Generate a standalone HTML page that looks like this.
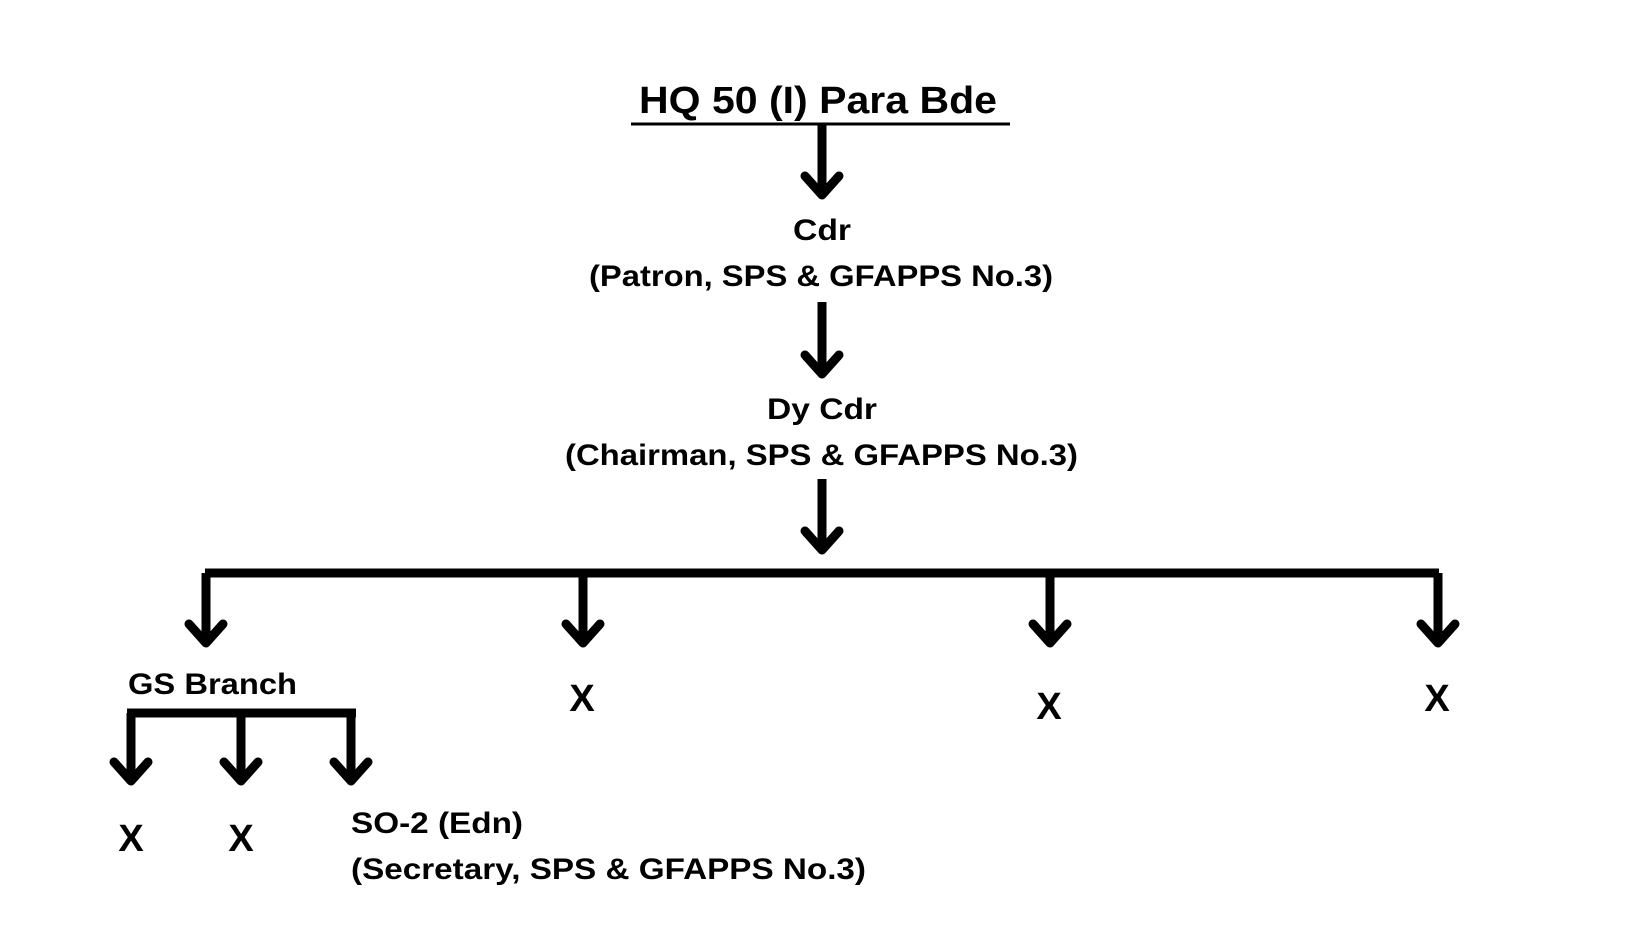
<!DOCTYPE html>
<html><head><style>
body{margin:0;background:#fff}
svg text{font-family:"Liberation Sans",sans-serif;font-weight:bold;fill:#000}
</style></head><body>
<svg width="1640" height="924" viewBox="0 0 1640 924" xmlns="http://www.w3.org/2000/svg">
<defs>
<g id="ah"><polyline points="-17,-22 0,-3 17,-22" fill="none" stroke="#000" stroke-width="9" stroke-linecap="round" stroke-linejoin="round"/></g>
</defs>
<text x="639" y="113" font-size="38" textLength="358" lengthAdjust="spacingAndGlyphs">HQ 50 (I) Para Bde</text>
<line x1="631" y1="124" x2="1010" y2="124" stroke="#000" stroke-width="3"/>
<g stroke="#000" stroke-width="9">
<line x1="822" y1="124" x2="822" y2="196"/>
<line x1="822" y1="302" x2="822" y2="375"/>
<line x1="822" y1="479" x2="822" y2="551"/>
<line x1="205" y1="573" x2="1439" y2="573"/>
<line x1="206" y1="573" x2="206" y2="644"/>
<line x1="583" y1="573" x2="583" y2="644"/>
<line x1="1050" y1="573" x2="1050" y2="644"/>
<line x1="1438" y1="573" x2="1438" y2="644"/>
<line x1="127" y1="713" x2="356" y2="713"/>
<line x1="131" y1="713" x2="131" y2="782"/>
<line x1="241" y1="713" x2="241" y2="782"/>
<line x1="351" y1="713" x2="351" y2="782"/>
</g>
<use href="#ah" x="822" y="198"/>
<use href="#ah" x="822" y="377"/>
<use href="#ah" x="822" y="553"/>
<use href="#ah" x="206" y="646"/>
<use href="#ah" x="583" y="646"/>
<use href="#ah" x="1050" y="646"/>
<use href="#ah" x="1438" y="646"/>
<use href="#ah" x="131" y="784"/>
<use href="#ah" x="241" y="784"/>
<use href="#ah" x="351" y="784"/>
<g font-size="30" lengthAdjust="spacingAndGlyphs">
<text x="793" y="240" textLength="58" lengthAdjust="spacingAndGlyphs">Cdr</text>
<text x="589" y="286" textLength="464" lengthAdjust="spacingAndGlyphs">(Patron, SPS &amp; GFAPPS No.3)</text>
<text x="767" y="419" textLength="110" lengthAdjust="spacingAndGlyphs">Dy Cdr</text>
<text x="565" y="465" textLength="513" lengthAdjust="spacingAndGlyphs">(Chairman, SPS &amp; GFAPPS No.3)</text>
<text x="128" y="694" textLength="169" lengthAdjust="spacingAndGlyphs">GS Branch</text>
<text x="351" y="833" textLength="172" lengthAdjust="spacingAndGlyphs">SO-2 (Edn)</text>
<text x="351" y="879" textLength="515" lengthAdjust="spacingAndGlyphs">(Secretary, SPS &amp; GFAPPS No.3)</text>
</g>
<g font-size="38" text-anchor="middle">
<text x="582" y="711">X</text>
<text x="1049" y="719">X</text>
<text x="1437" y="711">X</text>
<text x="131" y="851">X</text>
<text x="241" y="851">X</text>
</g>
</svg>
</body></html>
